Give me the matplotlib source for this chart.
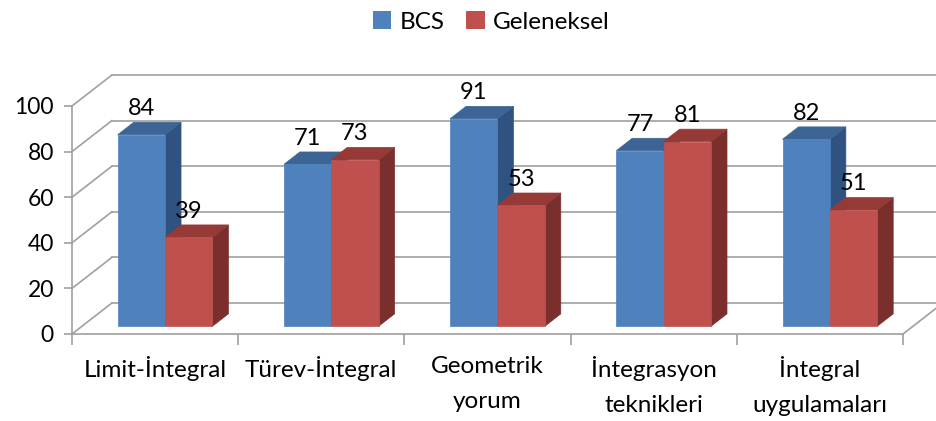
import matplotlib
matplotlib.use("Agg")
import matplotlib.pyplot as plt
from matplotlib.patches import Polygon, Patch
from matplotlib.lines import Line2D

categories = ["Limit-İntegral", "Türev-İntegral", "Geometrik\nyorum",
              "İntegrasyon\nteknikleri", "İntegral\nuygulamaları"]
series_names = ["BCS", "Geleneksel"]
bcs = [84, 71, 91, 77, 82]
geleneksel = [39, 73, 53, 81, 51]
yticks = [0, 20, 40, 60, 80, 100]

# styling / projection constants
DX, DY = 0.24, 13.6        # full depth offset (category units, value units)
Z0, Z1 = 0.25, 0.65        # bar depth range
BW = 0.285                 # bar width
GRID = "#A0A0A0"
FONT = ["Lato", "DejaVu Sans"]
FS = 17
colors = {
    "BCS": ("#4F81BD", "#3C6494", "#2F5280"),
    "Geleneksel": ("#C0504D", "#963A37", "#7B2F2D"),
}

plt.rcParams["font.family"] = FONT
fig = plt.figure(figsize=(9.36, 4.21), dpi=100)
ax = fig.add_axes([72/936, 87/421, 831/936, 228/421])
ax.set_xlim(0, len(categories))
ax.set_ylim(0, 100)
for s in ["top", "right"]:
    ax.spines[s].set_visible(False)
for s in ["left", "bottom"]:
    ax.spines[s].set_color(GRID)
    ax.spines[s].set_linewidth(1.2)
ax.set_yticks(yticks)
ax.tick_params(axis="y", length=6, width=1.2, color=GRID, labelsize=16.5, pad=7)
ax.set_xticks(range(len(categories) + 1))
ax.set_xticklabels([])
ax.tick_params(axis="x", which="major", length=8, width=1.2, color=GRID)
ax.set_xticks([i + 0.5 for i in range(len(categories))], minor=True)
ax.set_xticklabels(categories, minor=True, fontsize=17.5, linespacing=1.8)
ax.tick_params(axis="x", which="minor", length=0, pad=16)
ax.set_facecolor("none")

def P(x, y, z):
    return (x + DX * z, y + DY * z)

n = len(categories)
# walls
for v in yticks:
    ax.add_line(Line2D([P(0, v, 0)[0], P(0, v, 1)[0]], [P(0, v, 0)[1], P(0, v, 1)[1]],
                       color=GRID, lw=1.2, clip_on=False, zorder=1))
    ax.add_line(Line2D([P(0, v, 1)[0], P(n + 0.5, v, 1)[0]], [P(0, v, 1)[1], P(n, v, 1)[1]],
                       color=GRID, lw=1.2, clip_on=False, zorder=1))
ax.add_line(Line2D([P(n, 0, 0)[0], P(n, 0, 1)[0]], [P(n, 0, 0)[1], P(n, 0, 1)[1]],
                   color=GRID, lw=1.2, clip_on=False, zorder=1))

def bar3d(x0, h, cols):
    front, top, side = cols
    x1 = x0 + BW
    side_poly = [P(x1, 0, Z0), P(x1, 0, Z1), P(x1, h, Z1), P(x1, h, Z0)]
    top_poly = [P(x0, h, Z0), P(x1, h, Z0), P(x1, h, Z1), P(x0, h, Z1)]
    front_poly = [P(x0, 0, Z0), P(x1, 0, Z0), P(x1, h, Z0), P(x0, h, Z0)]
    for poly, c in [(side_poly, side), (top_poly, top), (front_poly, front)]:
        ax.add_patch(Polygon(poly, closed=True, facecolor=c, edgecolor=c,
                             lw=0.5, clip_on=False, zorder=3))
    cx, cy = P(x0 + BW / 2, h, Z0)
    ax.text(cx, cy + 11.5, f"{h}", ha="center", va="center", fontsize=FS,
            clip_on=False, zorder=5)

for i in range(n):
    left = i + 0.5 - BW
    bar3d(left, bcs[i], colors["BCS"])
    bar3d(left + BW, geleneksel[i], colors["Geleneksel"])

handles = [Patch(facecolor=colors[s][0], edgecolor="none") for s in series_names]
fig.legend(handles, series_names, loc="upper center", bbox_to_anchor=(0.525, 1.025),
           ncol=2, frameon=False, fontsize=17.5, handlelength=0.75, handleheight=0.75,
           handletextpad=0.35, columnspacing=0.9)

fig.savefig("out.png", dpi=100)
